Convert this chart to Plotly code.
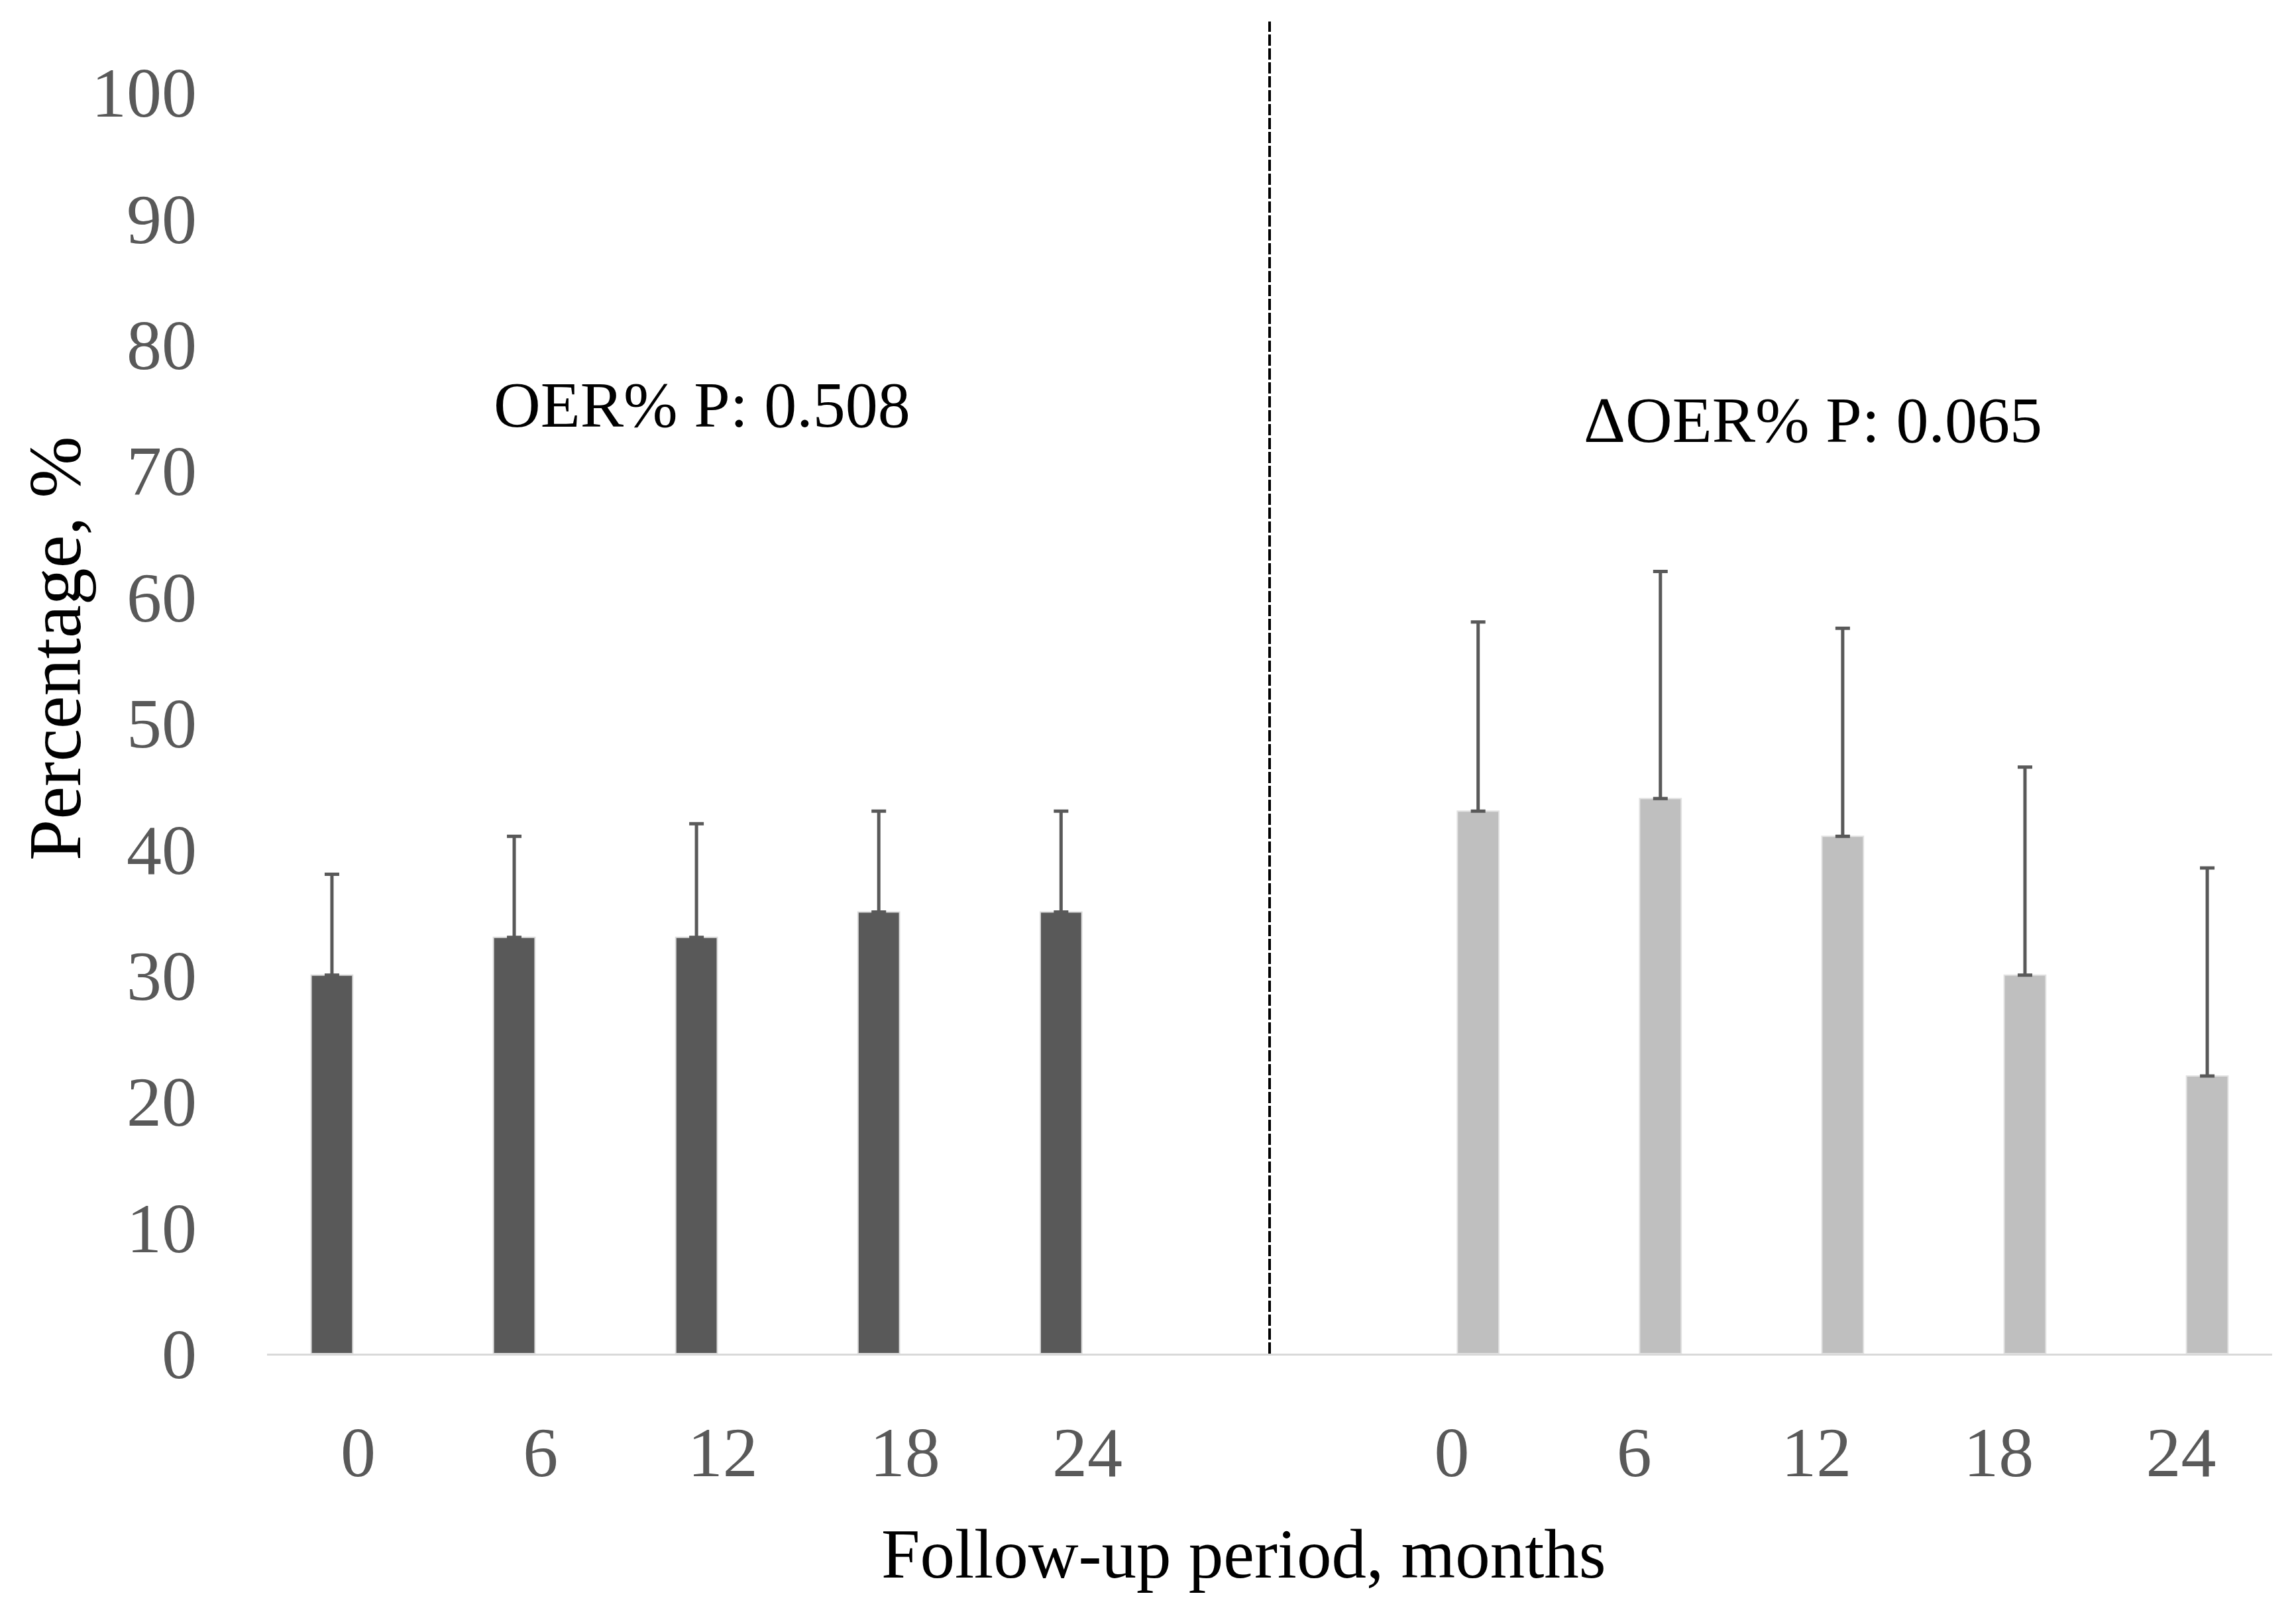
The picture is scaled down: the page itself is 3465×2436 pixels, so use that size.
import plotly.graph_objects as go

# ---- data ----
months = ["0", "6", "12", "18", "24"]
oer_mean = [30, 33, 33, 35, 35]
oer_sd = [8, 8, 9, 8, 8]
doer_mean = [43, 44, 41, 30, 22]
doer_sd = [15, 18, 16.5, 16.5, 16.5]
y_ticks = [0, 10, 20, 30, 40, 50, 60, 70, 80, 90, 100]

oer_cats = ["OER " + m for m in months]
doer_cats = ["ΔOER " + m for m in months]
gap_cat = "gap"
cats = oer_cats + [gap_cat] + doer_cats

n = len(months)
y_dark = oer_mean + [None] * (n + 1)
e_dark = oer_sd + [0] * (n + 1)
y_light = [None] * (n + 1) + doer_mean
e_light = [0] * (n + 1) + doer_sd

FONT = "Liberation Serif"
GRAY = "#595959"

fig = go.Figure()
fig.add_trace(go.Bar(
    x=cats, y=y_dark, marker=dict(color="#595959", line=dict(width=2, color="#dcdcdc")),
    error_y=dict(type="data", array=e_dark, arrayminus=[0] * len(cats),
                 symmetric=False, color=GRAY, thickness=5, width=11),
    showlegend=False))
fig.add_trace(go.Bar(
    x=cats, y=y_light, marker=dict(color="#bfbfbf", line=dict(width=2, color="#e2e2e2")),
    error_y=dict(type="data", array=e_light, arrayminus=[0] * len(cats),
                 symmetric=False, color=GRAY, thickness=5, width=11),
    showlegend=False))

gap_idx = cats.index(gap_cat)
fig.add_shape(type="line", xref="x", yref="paper",
              x0=gap_idx, x1=gap_idx, y0=0, y1=1.056,
              line=dict(color="black", width=4, dash="17px,4px"))

ann = dict(xref="paper", yref="paper", showarrow=False,
           xanchor="center", yanchor="middle")
fig.add_annotation(text="OER% P: 0.508", x=0.217, y=0.752,
                   font=dict(family=FONT, size=98, color="black"), **ann)
fig.add_annotation(text="ΔOER% P: 0.065", x=0.771, y=0.740,
                   font=dict(family=FONT, size=98, color="black"), **ann)
fig.add_annotation(text="Percentage, %", x=-0.106, y=0.559, textangle=-90,
                   font=dict(family=FONT, size=112, color="black"), **ann)
fig.add_annotation(text="Follow-up period, months", x=0.487, y=-0.159,
                   font=dict(family=FONT, size=105, color="black"), **ann)

fig.update_layout(
    width=3465, height=2436,
    margin=dict(l=395, r=44, t=131, b=401),
    paper_bgcolor="white", plot_bgcolor="white",
    barmode="group", bargap=0.424, bargroupgap=0.208,
    font=dict(family=FONT, color=GRAY),
    xaxis=dict(type="category", categoryorder="array", categoryarray=cats,
               tickmode="array", tickvals=oer_cats + doer_cats,
               ticktext=months + months,
               showgrid=False, zeroline=False, showline=True,
               linecolor="#d9d9d9", linewidth=3, ticks="",
               tickfont=dict(family=FONT, size=106, color=GRAY),
               ticklabelstandoff=55, range=[-0.5, len(cats) - 0.5]),
    yaxis=dict(range=[0, 100], tickmode="array", tickvals=y_ticks,
               showgrid=False, zeroline=False, showline=False, ticks="",
               tickfont=dict(family=FONT, size=106, color=GRAY),
               ticklabelstandoff=105),
)

fig.write_html("out.html")
